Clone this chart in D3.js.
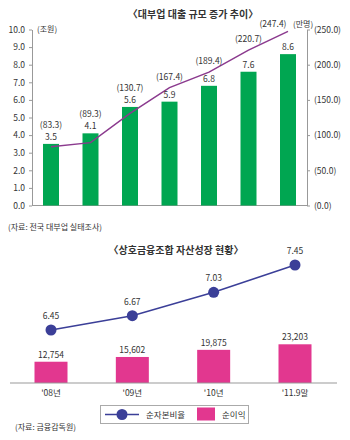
<!DOCTYPE html>
<html>
<head>
<meta charset="utf-8">
<style>
  body { margin: 0; background: #fff; }
  svg text { font-family: "Noto Sans CJK KR", "Noto Sans", sans-serif; fill: #333; }
</style>
</head>
<body>
<svg id="chart" width="350" height="440"></svg>
<script src="https://cdn.jsdelivr.net/npm/d3@7"></script>
<script>
  // Top chart: 대부업 대출 규모
  const loanPeriods = ["'06.12", "'07.09", "'08.09", "'09.12", "'10.06", "'10.12", "'11.06"];
  const loanAmount = [3.5, 4.1, 5.6, 5.9, 6.8, 7.6, 8.6];           // 조원
  const borrowers = [83.3, 89.3, 130.7, 167.4, 189.4, 220.7, 247.4]; // 만명
  const leftTicks = [0, 1, 2, 3, 4, 5, 6, 7, 8, 9, 10];
  const rightTicks = [0, 50, 100, 150, 200, 250];

  // Bottom chart: 상호금융조합 자산성장
  const coopYears = ["'08년", "'09년", "'10년", "'11.9말"];
  const capitalRatio = [6.45, 6.67, 7.03, 7.45];
  const netIncome = [12754, 15602, 19875, 23203];

  const svg = d3.select('#chart');
  const green = '#00a651';
  const purple = '#8b3a8e';
  const navy = '#3b3f98';
  const pink = '#e2378f';
  const axisGray = '#999';

  // ---------- top chart ----------
  const x1 = d3.scalePoint().domain(loanPeriods).range([51, 288]);
  const yL = d3.scaleLinear().domain([0, 10]).range([205.5, 29.5]);
  const yR = d3.scaleLinear().domain([0, 250]).range([205.5, 29.5]);

  svg.append('text')
    .attr('x', 193).attr('y', 18)
    .attr('text-anchor', 'middle')
    .attr('font-size', 10).attr('font-weight', 'bold')
    .text('〈대부업 대출 규모 증가 추이〉');

  const leftAxis = svg.append('g')
    .attr('transform', 'translate(32,0)')
    .call(d3.axisLeft(yL).tickValues(leftTicks).tickFormat(d3.format('.1f'))
      .tickSize(3).tickSizeOuter(0).tickPadding(4));
  const rightAxis = svg.append('g')
    .attr('transform', 'translate(307,0)')
    .call(d3.axisRight(yR).tickValues(rightTicks).tickFormat((d) => `(${d.toFixed(1)})`)
      .tickSize(3).tickSizeOuter(0).tickPadding(4));
  [leftAxis, rightAxis].forEach((g) => {
    g.selectAll('path, line').attr('stroke', axisGray);
    g.selectAll('text').attr('font-size', 8.5).attr('fill', '#333')
      .attr('font-family', 'Roboto, sans-serif');
  });

  svg.append('line')
    .attr('x1', 32).attr('x2', 307)
    .attr('y1', yL(0)).attr('y2', yL(0))
    .attr('stroke', axisGray);

  svg.append('text').attr('x', 37).attr('y', 32).attr('font-size', 8).text('(조원)');
  svg.append('text').attr('x', 293).attr('y', 27).attr('font-size', 8).text('(만명)');

  const barW = 16;
  svg.append('g').selectAll('rect')
    .data(loanAmount)
    .enter()
    .append('rect')
    .attr('x', (d, i) => x1(loanPeriods[i]) - barW / 2)
    .attr('y', (d) => yL(d))
    .attr('width', barW)
    .attr('height', (d) => yL(0) - yL(d))
    .attr('fill', green);

  const line1 = d3.line()
    .x((d, i) => x1(loanPeriods[i]))
    .y((d) => yR(d));
  svg.append('path')
    .datum(borrowers)
    .attr('fill', 'none')
    .attr('stroke', purple)
    .attr('stroke-width', 1.5)
    .attr('d', line1);

  svg.append('g').selectAll('text')
    .data(loanAmount)
    .enter()
    .append('text')
    .attr('x', (d, i) => x1(loanPeriods[i]))
    .attr('y', (d) => yL(d) - 4)
    .attr('text-anchor', 'middle')
    .attr('font-size', 8.5)
    .attr('font-family', 'Roboto, sans-serif')
    .text((d) => d.toFixed(1));

  const last = borrowers.length - 1;
  svg.append('g').selectAll('text')
    .data(borrowers)
    .enter()
    .append('text')
    .attr('x', (d, i) => x1(loanPeriods[i]) - (i === last ? 15 : 0))
    .attr('y', (d, i) => i === last ? yR(d) - 4
      : Math.min(yR(d) - 8, yL(loanAmount[i]) - 16))
    .attr('text-anchor', 'middle')
    .attr('font-size', 8.5)
    .attr('font-family', 'Roboto, sans-serif')
    .text((d) => `(${d.toFixed(1)})`);

  svg.append('text').attr('x', 8).attr('y', 230).attr('font-size', 8)
    .text('(자료: 전국 대부업 실태조사)');

  // ---------- bottom chart ----------
  const x2 = d3.scalePoint().domain(coopYears).range([51, 295]);
  const yRatio = d3.scaleLinear().domain([6.0, 8.0]).range([359.25, 229.25]);
  const yIncome = d3.scaleLinear().domain([0, 25000]).range([383, 341.3]);

  svg.append('text')
    .attr('x', 176).attr('y', 254)
    .attr('text-anchor', 'middle')
    .attr('font-size', 10).attr('font-weight', 'bold')
    .text('〈상호금융조합 자산성장 현황〉');

  const barW2 = 33;
  svg.append('g').selectAll('rect')
    .data(netIncome)
    .enter()
    .append('rect')
    .attr('x', (d, i) => x2(coopYears[i]) - barW2 / 2)
    .attr('y', (d) => yIncome(d))
    .attr('width', barW2)
    .attr('height', (d) => yIncome(0) - yIncome(d))
    .attr('fill', pink);

  svg.append('g').selectAll('text')
    .data(netIncome)
    .enter()
    .append('text')
    .attr('x', (d, i) => x2(coopYears[i]))
    .attr('y', (d) => yIncome(d) - 4)
    .attr('text-anchor', 'middle')
    .attr('font-size', 8.5)
    .attr('font-family', 'Roboto, sans-serif')
    .text((d) => d3.format(',')(d));

  svg.append('line')
    .attr('x1', 10).attr('x2', 337)
    .attr('y1', yIncome(0)).attr('y2', yIncome(0))
    .attr('stroke', axisGray);

  svg.append('g').selectAll('text')
    .data(coopYears)
    .enter()
    .append('text')
    .attr('x', (d) => x2(d))
    .attr('y', 396)
    .attr('text-anchor', 'middle')
    .attr('font-size', 8.5)
    .text((d) => d);

  const line2 = d3.line()
    .x((d, i) => x2(coopYears[i]))
    .y((d) => yRatio(d));
  svg.append('path')
    .datum(capitalRatio)
    .attr('fill', 'none')
    .attr('stroke', navy)
    .attr('stroke-width', 1.5)
    .attr('d', line2);

  svg.append('g').selectAll('circle')
    .data(capitalRatio)
    .enter()
    .append('circle')
    .attr('cx', (d, i) => x2(coopYears[i]))
    .attr('cy', (d) => yRatio(d))
    .attr('r', 5.5)
    .attr('fill', navy);

  svg.append('g').selectAll('text')
    .data(capitalRatio)
    .enter()
    .append('text')
    .attr('x', (d, i) => x2(coopYears[i]))
    .attr('y', (d) => yRatio(d) - 11)
    .attr('text-anchor', 'middle')
    .attr('font-size', 8.5)
    .attr('font-family', 'Roboto, sans-serif')
    .text((d) => d.toFixed(2));

  // legend
  const legend = svg.append('g');
  legend.append('rect')
    .attr('x', 100.5).attr('y', 405.5).attr('width', 148).attr('height', 18)
    .attr('fill', '#fff').attr('stroke', '#aaa');
  legend.append('line')
    .attr('x1', 105).attr('x2', 139).attr('y1', 414.5).attr('y2', 414.5)
    .attr('stroke', navy).attr('stroke-width', 1.5);
  legend.append('circle').attr('cx', 122).attr('cy', 414.5).attr('r', 5.5).attr('fill', navy);
  legend.append('text').attr('x', 146).attr('y', 417.5).attr('font-size', 8.5).text('순자본비율');
  legend.append('rect').attr('x', 197).attr('y', 407.5).attr('width', 18).attr('height', 13).attr('fill', pink);
  legend.append('text').attr('x', 222).attr('y', 417.5).attr('font-size', 8.5).text('순이익');

  svg.append('text').attr('x', 15).attr('y', 430).attr('font-size', 8)
    .text('(자료: 금융감독원)');
</script>
</body>
</html>
